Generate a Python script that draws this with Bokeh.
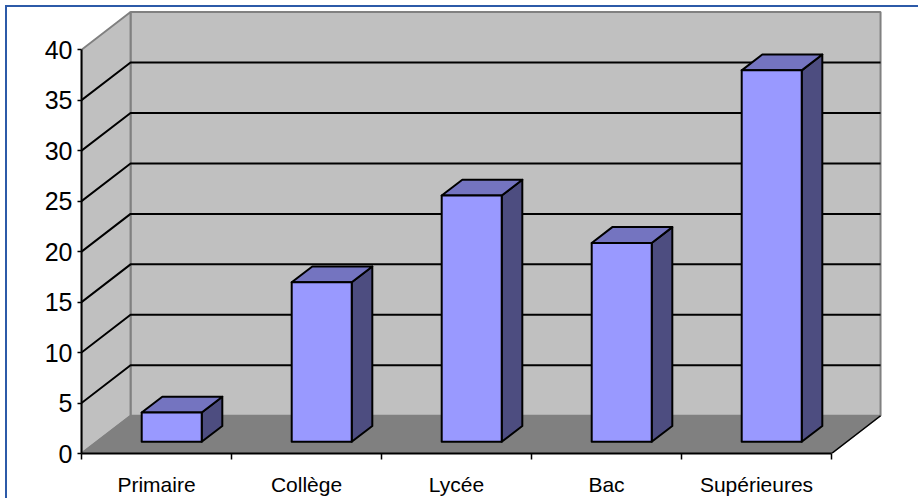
from bokeh.plotting import figure
from bokeh.models import FixedTicker, Range1d
from bokeh.embed import file_html
from bokeh.resources import INLINE

# ---- data ----
categories = ["Primaire", "Collège", "Lycée", "Bac", "Supérieures"]
values = [2.9, 15.8, 24.4, 19.7, 36.8]
y_ticks = [0, 5, 10, 15, 20, 25, 30, 35, 40]

# ---- 3D geometry (style) ----
PX_X = 150.0    # pixels per category
PX_Y = 10.16    # pixels per value unit
DX = 0.327      # depth offset in category units
DY = 3.74       # depth offset in value units
F0, F1 = 0.31, 0.73   # bar depth span (fraction of depth)
HALF_W = 0.2
YMAX = y_ticks[-1]
N = len(categories)

p = figure(width=918, height=498, output_backend="svg", toolbar_location=None,
           x_range=Range1d(0, 837 / PX_X), y_range=Range1d(0, 456 / PX_Y),
           min_border_left=81, min_border_right=0, min_border_top=0, min_border_bottom=42,
           background_fill_color=None, border_fill_color=None)
p.outline_line_color = None
p.xgrid.visible = False
p.ygrid.visible = False
# outer chart frame (blue line 5 px in from the left and top window edges)
p.styles = {"box-shadow": "inset 5px 5px 0 0 #ffffff, inset 7px 7px 0 0 #2c5aa8",
            "background-color": "#ffffff"}

WALL = "#c0c0c0"
FLOOR = "#808080"
EDGE = "#808080"

# back wall
p.patch([DX, N + DX, N + DX, DX], [DY, DY, YMAX + DY, YMAX + DY],
        fill_color=WALL, line_color=EDGE, line_width=2)
# side wall
p.patch([0, DX, DX, 0], [0, DY, YMAX + DY, YMAX],
        fill_color=WALL, line_color=EDGE, line_width=2)

# gridlines
gx, gy = [], []
for v in y_ticks[1:-1]:
    gx.append([0, DX, N + DX])
    gy.append([v, v + DY, v + DY])
p.multi_line(gx, gy, line_color="black", line_width=2)

# floor
p.patch([0, N, N + DX, DX], [0, 0, DY, DY], fill_color=FLOOR, line_color=EDGE, line_width=1.5)
p.line([N, N + DX], [0, DY], line_color="black", line_width=1.5)

# bars
FRONT = "#9999ff"
TOP = "#7474c0"
SIDE = "#4d4d80"
fx, fy, tx, ty, sx, sy = [], [], [], [], [], []
for i, v in enumerate(values):
    c = i + 0.5
    l0, r0 = c - HALF_W + F0 * DX, c + HALF_W + F0 * DX
    l1, r1 = c - HALF_W + F1 * DX, c + HALF_W + F1 * DX
    b0, b1 = F0 * DY, F1 * DY
    fx.append([l0, r0, r0, l0]); fy.append([b0, b0, v + b0, v + b0])
    tx.append([l0, r0, r1, l1]); ty.append([v + b0, v + b0, v + b1, v + b1])
    sx.append([r0, r1, r1, r0]); sy.append([b0, b1, v + b1, v + b0])
p.patches(sx, sy, fill_color=SIDE, line_color="black", line_width=2, line_join="round")
p.patches(tx, ty, fill_color=TOP, line_color="black", line_width=2, line_join="round")
p.patches(fx, fy, fill_color=FRONT, line_color="black", line_width=2, line_join="round")

# axes
FONT = "Liberation Sans"
ya = p.yaxis[0]
ya.ticker = FixedTicker(ticks=y_ticks)
ya.bounds = (0, YMAX)
ya.axis_line_color = "black"
ya.axis_line_width = 2
ya.major_tick_line_color = "black"
ya.major_tick_line_width = 1.5
ya.major_tick_out = 4
ya.major_tick_in = 0
ya.minor_tick_line_color = None
ya.major_label_standoff = 5
ya.major_label_text_font = FONT
ya.major_label_text_font_size = "25px"
ya.major_label_text_color = "black"

xa = p.xaxis[0]
xa.ticker = FixedTicker(ticks=[i + 0.5 for i in range(N)], minor_ticks=list(range(N + 1)))
xa.bounds = (0, N)
xa.major_label_overrides = {i + 0.5: cat for i, cat in enumerate(categories)}
xa.axis_line_color = "black"
xa.axis_line_width = 2
xa.major_tick_line_color = None
xa.major_tick_out = 0
xa.major_tick_in = 0
xa.minor_tick_line_color = "black"
xa.minor_tick_line_width = 1.5
xa.minor_tick_out = 6
xa.minor_tick_in = 0
xa.major_label_standoff = 13
xa.major_label_text_font = FONT
xa.major_label_text_font_size = "21px"
xa.major_label_text_color = "black"

open("out.html", "w").write(file_html(p, INLINE))
